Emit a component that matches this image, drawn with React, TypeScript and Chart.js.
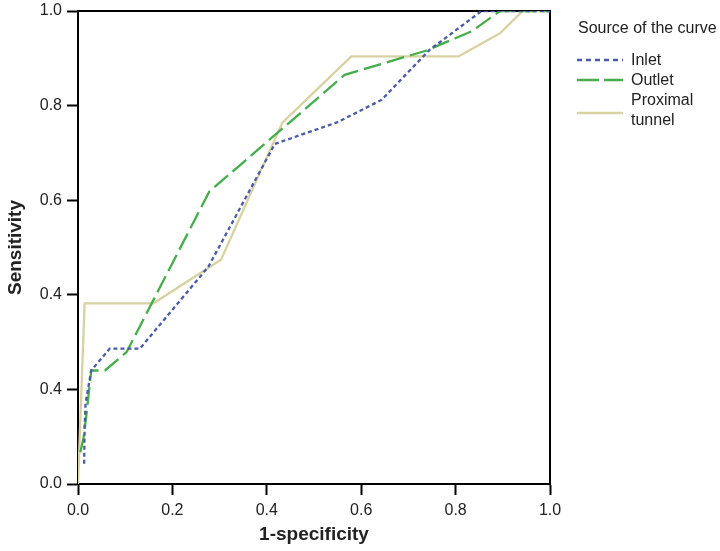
import React, { useEffect, useRef } from "react";
import { Chart, registerables } from "chart.js";

Chart.register(...registerables);

const inletX = [0.013, 0.014, 0.016, 0.028, 0.067, 0.131, 0.276, 0.417, 0.55, 0.643, 0.745, 0.855, 1.0];
const inletY = [0.043, 0.12, 0.17, 0.24, 0.286, 0.286, 0.459, 0.719, 0.765, 0.812, 0.918, 1.0, 1.0];

const outletX = [0.005, 0.012, 0.018, 0.028, 0.057, 0.103, 0.278, 0.565, 0.737, 0.834, 0.894, 1.0];
const outletY = [0.067, 0.099, 0.148, 0.24, 0.24, 0.279, 0.618, 0.865, 0.916, 0.957, 1.0, 1.0];

const proxX = [0, 0.014, 0.16, 0.303, 0.433, 0.579, 0.806, 0.894, 0.942, 1.0];
const proxY = [0, 0.382, 0.382, 0.474, 0.764, 0.904, 0.904, 0.953, 1.0, 1.0];

const xTickValues = [0, 0.2, 0.4, 0.6, 0.8, 1.0];
const xTickLabels = ["0.0", "0.2", "0.4", "0.6", "0.8", "1.0"];
const yTickValues = [0, 0.2, 0.4, 0.6, 0.8, 1.0];
const yTickLabels = ["0.0", "0.4", "0.4", "0.6", "0.8", "1.0"];

const seriesNames = ["Inlet", "Outlet", "Proximal tunnel"];
const legendTitle = "Source of the curve";
const xTitle = "1-specificity";
const yTitle = "Sensitivity";

const BLUE = "#4a5ca8";
const GREEN = "#45ad4b";
const KHAKI = "#d8d1a2";
const FONT = "'Liberation Sans', Arial, sans-serif";

const zip = (xs: number[], ys: number[]) => xs.map((x, i) => ({ x, y: ys[i] }));

const framePlugin = {
  id: "frame",
  beforeDatasetsDraw(chart: any) {
    const { ctx, chartArea } = chart;
    ctx.save();
    ctx.strokeStyle = "#000";
    ctx.lineWidth = 2;
    ctx.beginPath();
    ctx.moveTo(chartArea.left, chartArea.top);
    ctx.lineTo(chartArea.right, chartArea.top);
    ctx.lineTo(chartArea.right, chartArea.bottom);
    ctx.stroke();
    ctx.restore();
  },
};

export default function App() {
  const ref = useRef<HTMLCanvasElement | null>(null);

  useEffect(() => {
    document.body.style.margin = "0";
    document.body.style.overflow = "hidden";
    if (!ref.current) return;
    const chart = new Chart(ref.current, {
      type: "line",
      data: {
        datasets: [
          {
            label: seriesNames[0],
            data: zip(inletX, inletY),
            borderColor: BLUE,
            borderWidth: 2.3,
            borderDash: [4, 3],
            pointRadius: 0,
            tension: 0,
          },
          {
            label: seriesNames[1],
            data: zip(outletX, outletY),
            borderColor: GREEN,
            borderWidth: 2.3,
            borderDash: [18, 6],
            pointRadius: 0,
            tension: 0,
          },
          {
            label: seriesNames[2],
            data: zip(proxX, proxY),
            borderColor: KHAKI,
            borderWidth: 2.3,
            pointRadius: 0,
            tension: 0,
          },
        ],
      },
      options: {
        animation: false,
        responsive: false,
        devicePixelRatio: 1,
        layout: { padding: { left: 0, top: 11, right: 170, bottom: 0 } },
        plugins: {
          legend: { display: false },
          tooltip: { enabled: false },
        },
        scales: {
          x: {
            type: "linear",
            min: 0,
            max: 1,
            afterFit: (s: any) => {
              s.height = 67;
            },
            afterBuildTicks: (s: any) => {
              s.ticks = xTickValues.map((v) => ({ value: v }));
            },
            ticks: {
              callback: (_v: any, i: number) => xTickLabels[i],
              color: "#222",
              font: { family: FONT, size: 16 },
              padding: 6,
              maxRotation: 0,
            },
            grid: {
              display: true,
              drawOnChartArea: false,
              drawTicks: true,
              tickLength: 11,
              tickWidth: 2,
              tickColor: "#000",
              color: "#000",
            },
            border: { display: true, color: "#000", width: 2 },
            title: {
              display: true,
              text: xTitle,
              color: "#222",
              font: { family: FONT, size: 19, weight: "bold" },
              padding: { top: 0, bottom: 5 },
            },
          },
          y: {
            type: "linear",
            min: 0,
            max: 1,
            afterFit: (s: any) => {
              s.width = 78;
              s.paddingTop = 0;
              s.paddingBottom = 0;
            },
            afterBuildTicks: (s: any) => {
              s.ticks = yTickValues.map((v) => ({ value: v }));
            },
            ticks: {
              callback: (_v: any, i: number) => yTickLabels[i],
              color: "#222",
              font: { family: FONT, size: 16 },
              padding: 5,
            },
            grid: {
              display: true,
              drawOnChartArea: false,
              drawTicks: true,
              tickLength: 11,
              tickWidth: 2,
              tickColor: "#000",
              color: "#000",
            },
            border: { display: true, color: "#000", width: 2 },
            title: {
              display: true,
              text: yTitle,
              color: "#222",
              font: { family: FONT, size: 19, weight: "bold" },
              padding: { top: 4, bottom: 0 },
            },
          },
        },
      },
      plugins: [framePlugin],
    } as any);
    return () => chart.destroy();
  }, []);

  const textStyle: React.CSSProperties = {
    position: "absolute",
    fontFamily: FONT,
    fontSize: 16,
    color: "#222",
    lineHeight: "20px",
    whiteSpace: "nowrap",
  };

  const swatch = (top: number, color: string, dash?: string) => (
    <svg style={{ position: "absolute", left: 577, top: top - 3, width: 46, height: 6 }} width={46} height={6}>
      <line x1={0} y1={3} x2={46} y2={3} stroke={color} strokeWidth={2.3} strokeDasharray={dash} />
    </svg>
  );

  return (
    <div style={{ position: "relative", width: 720, height: 551 }}>
      <canvas ref={ref} width={720} height={551} style={{ display: "block", width: 720, height: 551 }} />
      <div style={{ ...textStyle, left: 578, top: 18 }}>{legendTitle}</div>
      {swatch(60, BLUE, "5 4")}
      <div style={{ ...textStyle, left: 631, top: 50 }}>{seriesNames[0]}</div>
      {swatch(80, GREEN, "22 5")}
      <div style={{ ...textStyle, left: 631, top: 70 }}>{seriesNames[1]}</div>
      {swatch(113, KHAKI)}
      <div style={{ ...textStyle, left: 631, top: 90, width: 80, whiteSpace: "normal" }}>{seriesNames[2]}</div>
    </div>
  );
}
